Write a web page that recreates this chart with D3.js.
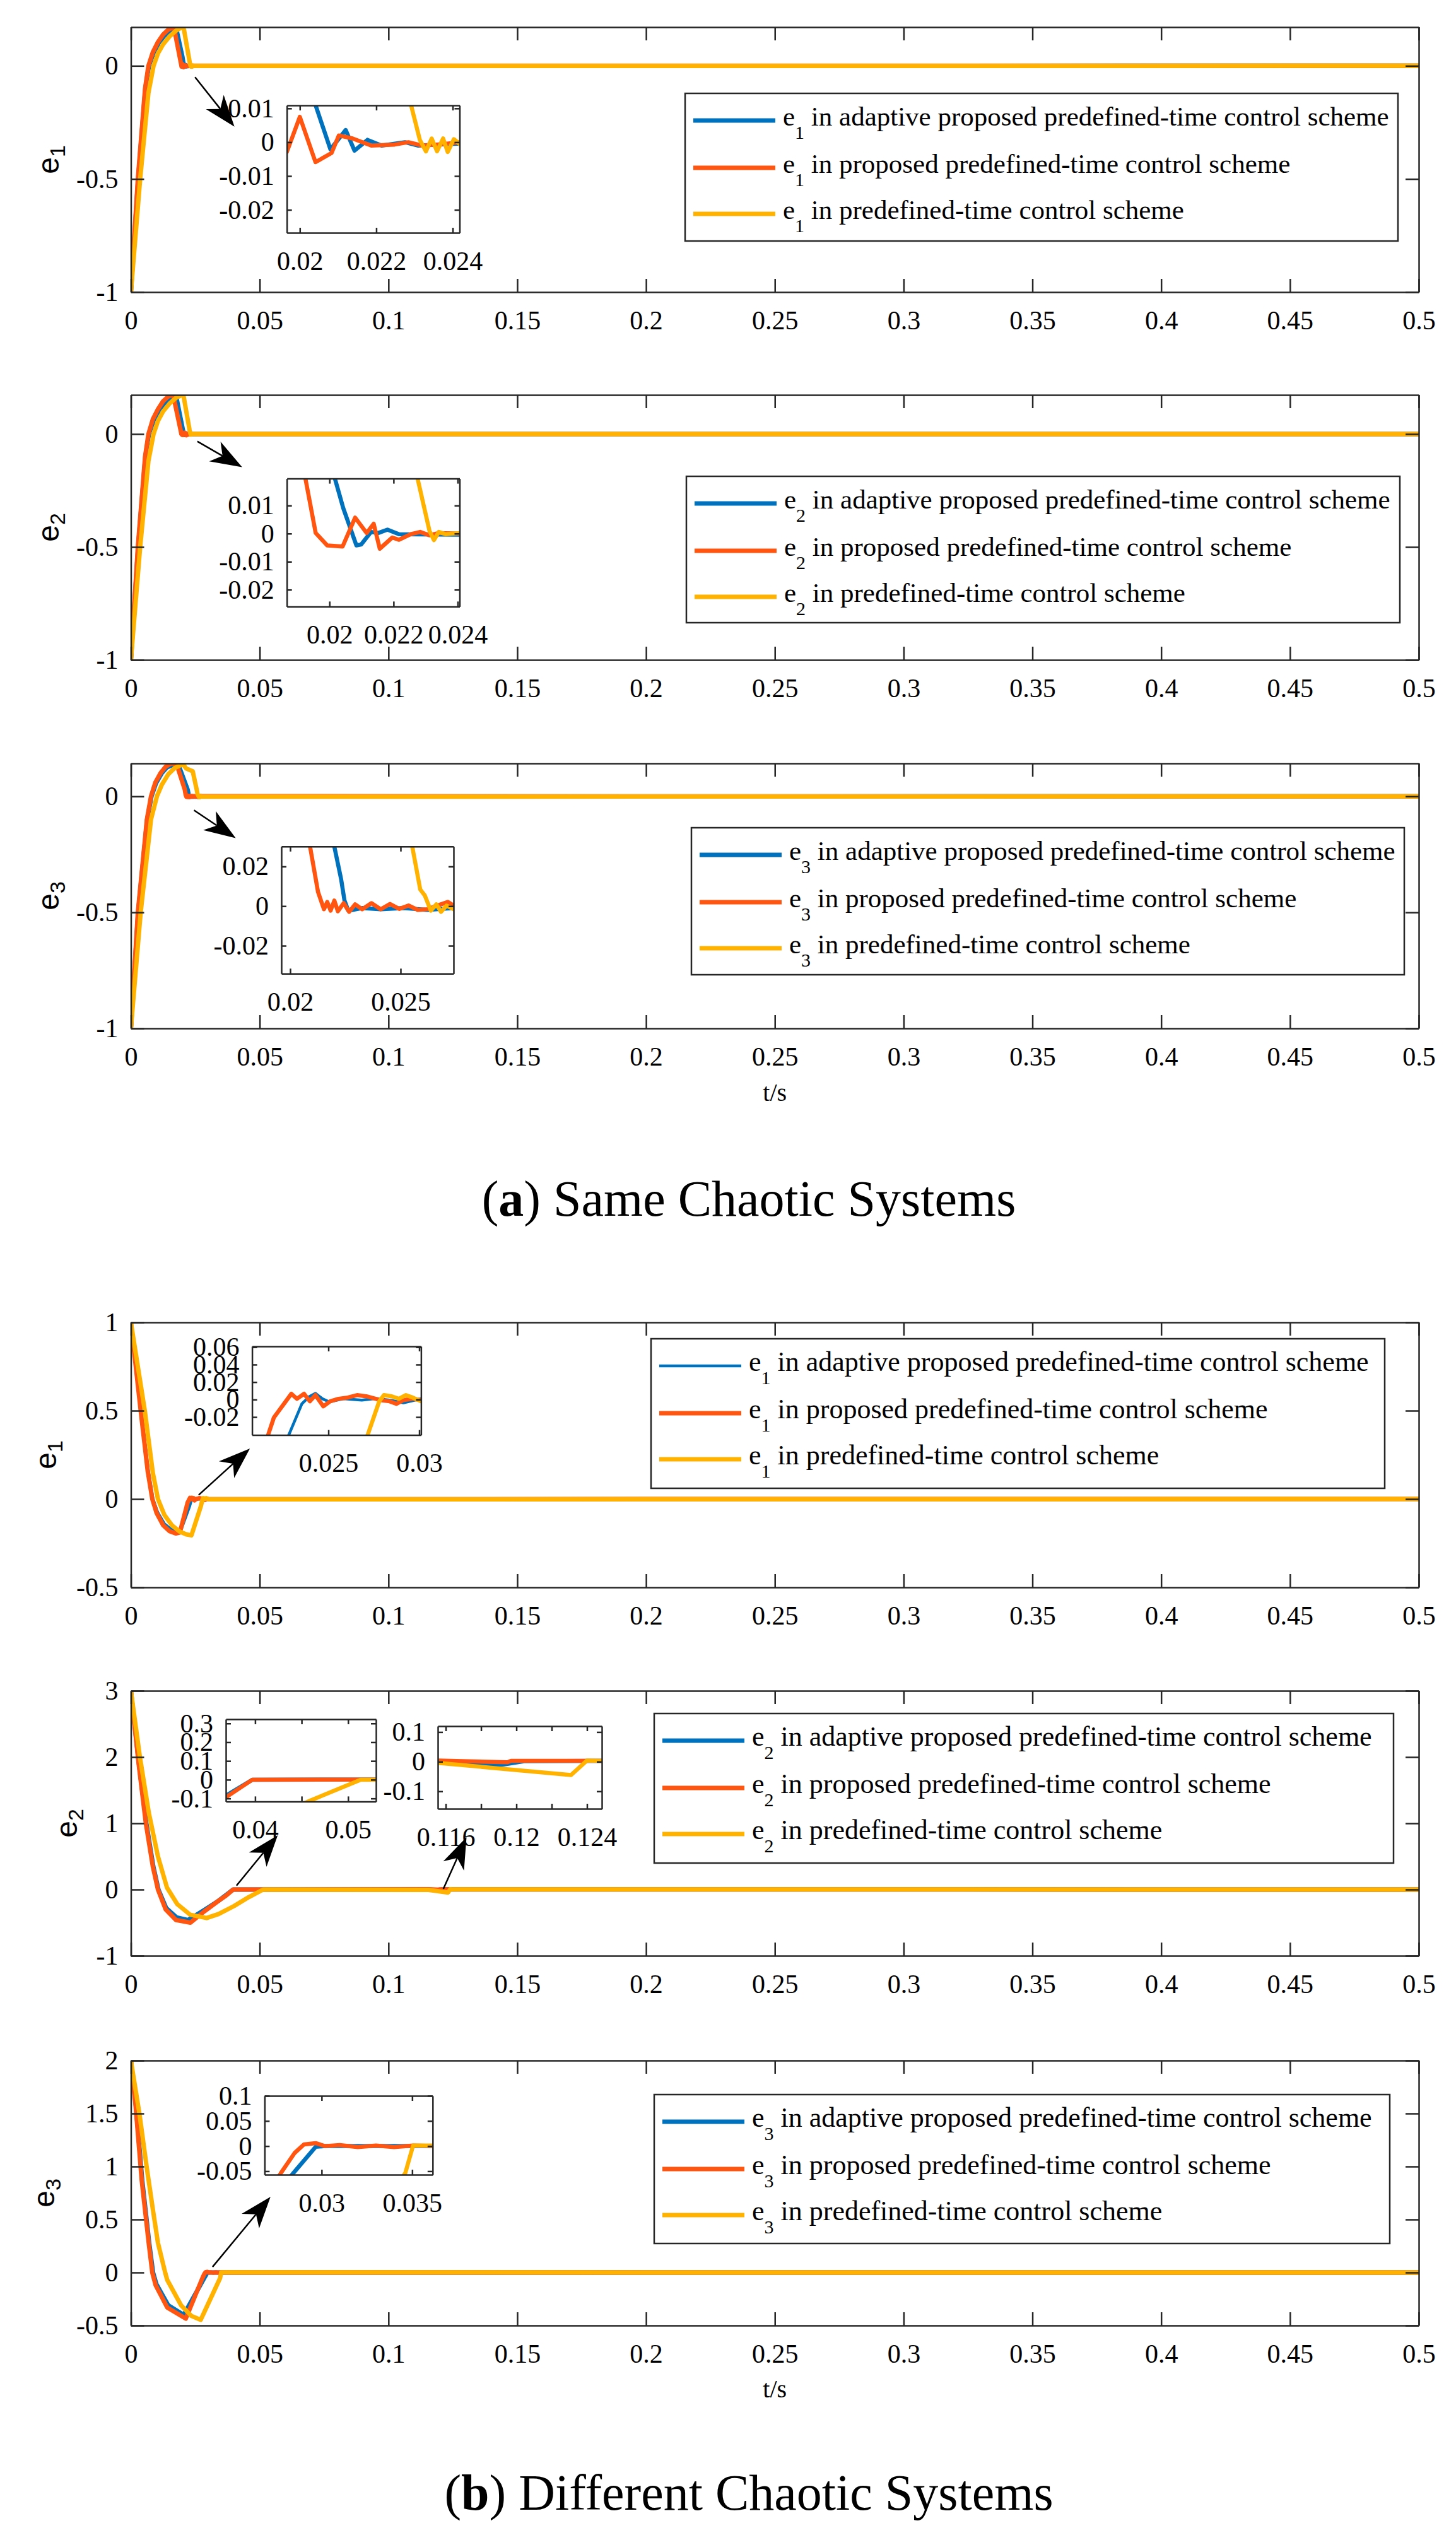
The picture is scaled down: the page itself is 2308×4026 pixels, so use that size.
<!DOCTYPE html>
<html>
<head>
<meta charset="utf-8">
<script src="https://cdn.jsdelivr.net/npm/d3@7/dist/d3.min.js"></script>
<style>
  body { margin: 0; background: #fff; }
</style>
</head>
<body>
<div id="chart"></div>
<script>
// ---- data ----
const xTicks = [0, 0.05, 0.1, 0.15, 0.2, 0.25, 0.3, 0.35, 0.4, 0.45, 0.5];
const xTickLabels = ["0", "0.05", "0.1", "0.15", "0.2", "0.25", "0.3", "0.35", "0.4", "0.45", "0.5"];

const yTicksA = [-1, -0.5, 0];
const yLabelsA = ["-1", "-0.5", "0"];
const yTicksB1 = [-0.5, 0, 0.5, 1];
const yLabelsB1 = ["-0.5", "0", "0.5", "1"];
const yTicksB2 = [-1, 0, 1, 2, 3];
const yLabelsB2 = ["-1", "0", "1", "2", "3"];
const yTicksB3 = [-0.5, 0, 0.5, 1, 1.5, 2];
const yLabelsB3 = ["-0.5", "0", "0.5", "1", "1.5", "2"];

const legendTexts = [
  "in adaptive proposed predefined-time control scheme",
  "in proposed predefined-time control scheme",
  "in predefined-time control scheme"
];

// (a) same chaotic systems: [t, e]
const a1Blue = [[0,-1],[0.0028,-0.5],[0.0056,-0.1],[0.007,0],[0.0088,0.058],[0.011,0.105],[0.013,0.133],[0.015,0.15],[0.0172,0.158],[0.0178,0.155],[0.02,0.04],[0.02041,0.011],[0.0208,-0.0021],[0.0212,0.0036],[0.02143,-0.0025],[0.02177,0.0007],[0.02214,-0.001],[0.02275,0],[0.0231,-0.001],[0.0242,-0.0004],[0.5,0]];
const a1Orange = [[0,-1],[0.0027,-0.5],[0.0055,-0.1],[0.0068,0],[0.0085,0.06],[0.0105,0.105],[0.0125,0.138],[0.0145,0.16],[0.0162,0.168],[0.0168,0.165],[0.01966,-0.0029],[0.02,0.0075],[0.02041,-0.0059],[0.02083,-0.0032],[0.02102,0.002],[0.02138,0.0011],[0.02187,-0.001],[0.02248,-0.0007],[0.02284,0],[0.0232,-0.001],[0.0237,-0.0006],[0.0242,0],[0.5,0]];
const a1Yellow = [[0,-1],[0.0036,-0.5],[0.0068,-0.12],[0.0088,0],[0.0105,0.055],[0.0125,0.095],[0.015,0.13],[0.0175,0.155],[0.0198,0.171],[0.0206,0.16],[0.02291,0.011],[0.02314,0.0007],[0.0233,-0.0027],[0.02345,0.0011],[0.02359,-0.0027],[0.02375,0.0011],[0.02387,-0.0029],[0.02403,0.0009],[0.0242,-0.0007],[0.5,0]];

const a2Blue = [[0,-1],[0.0028,-0.5],[0.0056,-0.1],[0.007,0],[0.0088,0.06],[0.011,0.108],[0.013,0.136],[0.015,0.152],[0.0172,0.158],[0.0178,0.154],[0.02017,0.0196],[0.02043,0.0091],[0.02084,-0.0042],[0.02099,-0.0039],[0.0213,0.0006],[0.02152,0.0002],[0.02181,0.0014],[0.02217,-0.0002],[0.02406,-0.0004],[0.5,0]];
const a2Orange = [[0,-1],[0.0027,-0.5],[0.0055,-0.1],[0.0068,0],[0.0085,0.065],[0.0105,0.11],[0.0125,0.145],[0.0145,0.166],[0.0158,0.173],[0.0165,0.168],[0.01925,0.0196],[0.01957,0.0002],[0.01993,-0.0042],[0.02041,-0.0046],[0.0208,0.0057],[0.02116,0.0002],[0.02138,0.0035],[0.02157,-0.0054],[0.02196,-0.0014],[0.02217,-0.0022],[0.02254,-0.0002],[0.02283,0.0006],[0.02312,-0.0006],[0.02341,0.0002],[0.02406,0],[0.5,0]];
const a2Yellow = [[0,-1],[0.0036,-0.5],[0.0068,-0.12],[0.0088,0],[0.0105,0.058],[0.0125,0.1],[0.015,0.135],[0.0175,0.16],[0.0198,0.173],[0.0205,0.165],[0.02275,0.0196],[0.02312,0.001],[0.02326,-0.0023],[0.02341,0.0006],[0.02362,-0.0002],[0.02406,0.0002],[0.5,0]];

const a3Blue = [[0,-1],[0.0028,-0.5],[0.0063,-0.1],[0.008,0],[0.0098,0.058],[0.012,0.1],[0.014,0.125],[0.016,0.134],[0.0177,0.135],[0.019,0.12],[0.022,0.03],[0.02231,0.0134],[0.02246,0.0028],[0.02263,-0.0023],[0.02326,-0.001],[0.0241,-0.0016],[0.02515,-0.001],[0.0262,-0.0019],[0.0274,-0.001],[0.5,0]];
const a3Orange = [[0,-1],[0.0027,-0.5],[0.0062,-0.1],[0.0078,0],[0.0095,0.06],[0.0115,0.1],[0.0135,0.128],[0.0155,0.141],[0.0165,0.142],[0.018,0.13],[0.0209,0.03],[0.02126,0.0072],[0.02153,-0.0016],[0.02168,0.0021],[0.02183,-0.0023],[0.022,0.0028],[0.02216,-0.0026],[0.02242,0.0015],[0.02267,-0.0029],[0.02294,0.0009],[0.02326,-0.0016],[0.02368,0.0015],[0.0241,-0.0016],[0.02452,0.0011],[0.02494,-0.0014],[0.02536,0.0003],[0.02578,-0.0019],[0.0262,-0.0016],[0.02683,0.0009],[0.02714,0.0021],[0.0274,0.0003],[0.5,0]];
const a3Yellow = [[0,-1],[0.0038,-0.5],[0.0078,-0.1],[0.0101,0],[0.012,0.05],[0.0145,0.095],[0.017,0.122],[0.0195,0.135],[0.0205,0.134],[0.0215,0.12],[0.024,0.108],[0.02553,0.03],[0.02589,0.0084],[0.0261,0.0053],[0.02637,-0.0023],[0.02662,0.0009],[0.02683,-0.0029],[0.02708,0.0003],[0.0274,-0.0016],[0.5,0]];

// (b) different chaotic systems
const b1Blue = [[0,1],[0.004,0.5],[0.0068,0.16],[0.0086,0],[0.0104,-0.075],[0.013,-0.14],[0.0155,-0.17],[0.018,-0.18],[0.0196,-0.17],[0.02283,-0.04],[0.02354,-0.0049],[0.02393,0.0031],[0.02429,0.0071],[0.02467,0.0009],[0.02505,-0.0026],[0.02582,0.0009],[0.02684,-0.0006],[0.0276,0.0011],[0.02837,-0.0006],[0.02913,-0.0037],[0.0301,0.0009],[0.5,0]];
const b1Orange = [[0,1],[0.0038,0.5],[0.0065,0.16],[0.0083,0],[0.01,-0.08],[0.0125,-0.148],[0.015,-0.182],[0.0175,-0.195],[0.019,-0.19],[0.02169,-0.04],[0.022,-0.0206],[0.02296,0.0066],[0.02327,0.0009],[0.02366,0.0066],[0.02398,-0.002],[0.02429,0.0051],[0.02472,-0.0077],[0.0251,-0.002],[0.02556,0.0009],[0.02607,0.0023],[0.02658,0.0051],[0.02709,0.0037],[0.02786,-0.0006],[0.02837,-0.002],[0.02875,-0.0049],[0.02913,-0.0006],[0.02964,0.0009],[0.0301,-0.0006],[0.5,0]];
const b1Yellow = [[0,1],[0.0054,0.5],[0.0085,0.15],[0.0105,0],[0.013,-0.09],[0.016,-0.15],[0.019,-0.185],[0.0215,-0.2],[0.0235,-0.206],[0.02717,-0.04],[0.0278,-0.002],[0.02806,0.0051],[0.02849,0.0037],[0.02888,0.0009],[0.02926,0.0051],[0.02964,0.0023],[0.0301,-0.002],[0.5,0]];

const b2Blue = [[0,3],[0.0031,1.9],[0.006,1.0],[0.0087,0.35],[0.0107,0],[0.0137,-0.28],[0.0177,-0.42],[0.0222,-0.46],[0.028,-0.32],[0.034,-0.17],[0.0397,0],[0.1155,0.002],[0.119,-0.012],[0.1205,0.002],[0.1248,0.003],[0.5,0]];
const b2Orange = [[0,3],[0.003,1.9],[0.0058,1.0],[0.0085,0.35],[0.0105,0],[0.0135,-0.3],[0.0175,-0.46],[0.0231,-0.5],[0.0285,-0.33],[0.034,-0.17],[0.03685,-0.094],[0.0397,0],[0.1155,0.004],[0.1195,-0.002],[0.1197,0.003],[0.1248,0.003],[0.5,0]];
const b2Yellow = [[0,3],[0.0035,2.0],[0.007,1.15],[0.0105,0.5],[0.014,0.03],[0.018,-0.22],[0.023,-0.38],[0.0294,-0.43],[0.034,-0.37],[0.04,-0.25],[0.04585,-0.113],[0.05135,0],[0.11555,-0.004],[0.1231,-0.045],[0.124,0.004],[0.1248,0.003],[0.5,0]];

const b3Blue = [[0,2],[0.0019,1.58],[0.0044,0.87],[0.0071,0.28],[0.0086,0],[0.0099,-0.11],[0.0145,-0.31],[0.0205,-0.4],[0.02844,-0.0537],[0.02967,-0.0015],[0.0302,0],[0.5,0]];
const b3Orange = [[0,2],[0.0018,1.58],[0.0042,0.87],[0.0069,0.28],[0.0083,0],[0.0096,-0.12],[0.0141,-0.33],[0.0213,-0.435],[0.02775,-0.0537],[0.02851,-0.0137],[0.02903,0.0034],[0.02967,0.0059],[0.03018,0],[0.031,0.002],[0.032,-0.002],[0.033,0.001],[0.034,-0.002],[0.03505,0.001],[0.0361,0],[0.5,0]];
const b3Yellow = [[0,2],[0.0033,1.5],[0.0061,1.0],[0.0085,0.6],[0.0105,0.28],[0.0133,0],[0.0141,-0.07],[0.0195,-0.31],[0.0235,-0.41],[0.0271,-0.447],[0.03462,-0.0537],[0.03505,0.001],[0.5,0]];

// inset ticks
const insA1X = [0.02, 0.022, 0.024], insA1XL = ["0.02", "0.022", "0.024"];
const insA1Y = [-0.02, -0.01, 0, 0.01], insA1YL = ["-0.02", "-0.01", "0", "0.01"];
const insA3X = [0.02, 0.025], insA3XL = ["0.02", "0.025"];
const insA3Y = [-0.02, 0, 0.02], insA3YL = ["-0.02", "0", "0.02"];
const insB1X = [0.025, 0.03], insB1XL = ["0.025", "0.03"];
const insB1Y = [-0.02, 0, 0.02, 0.04, 0.06], insB1YL = ["-0.02", "0", "0.02", "0.04", "0.06"];
const insB2aX = [0.04, 0.045, 0.05], insB2aXL = ["0.04", "", "0.05"];
const insB2aY = [-0.1, 0, 0.1, 0.2, 0.3], insB2aYL = ["-0.1", "0", "0.1", "0.2", "0.3"];
const insB2bX = [0.116, 0.118, 0.12, 0.122, 0.124], insB2bXL = ["0.116", "", "0.12", "", "0.124"];
const insB2bY = [-0.1, 0, 0.1], insB2bYL = ["-0.1", "0", "0.1"];
const insB3X = [0.03, 0.035], insB3XL = ["0.03", "0.035"];
const insB3Y = [-0.05, 0, 0.05, 0.1], insB3YL = ["-0.05", "0", "0.05", "0.1"];

// ---- layout ----
const W = 2308, H = 4026;
const colors = ["#0072BD", "#FF5510", "#FFB300"];
const axisColor = "#262626";
const serif = "'Liberation Serif', 'Times New Roman', serif";
const plotH = 420;

const x = d3.scaleLinear().domain([0, 0.5]).range([207.5, 2249]);

const panels = [
  { top: 43, yDomain: [-1, 0.171], yt: yTicksA, yl: yLabelsA, sub: "1", series: [a1Blue, a1Orange, a1Yellow], ylabX: 81,
    legend: { x: 1086, y: 148, w: 1130, h: 234, size: 43 }, widths: [7, 7, 7],
    insets: [{ box: [454.7, 167, 273.8, 202], xd: [0.01966, 0.02418], yd: [-0.0268, 0.0109], xt: insA1X, xl: insA1XL, yt: insA1Y, yl: insA1YL }],
    arrows: [[[0.0249, -0.05], [0.0402, -0.269]]] },
  { top: 626, yDomain: [-1, 0.173], yt: yTicksA, yl: yLabelsA, sub: "2", series: [a2Blue, a2Orange, a2Yellow], ylabX: 81,
    legend: { x: 1088, y: 755, w: 1131, h: 232, size: 43 }, widths: [7, 7, 7],
    insets: [{ box: [454.7, 758.6, 273.8, 202.8], xd: [0.01867, 0.02406], yd: [-0.026, 0.0196], xt: insA1X, xl: insA1XL, yt: insA1Y, yl: insA1YL }],
    arrows: [[[0.0258, -0.0324], [0.0432, -0.147]]] },
  { top: 1210, yDomain: [-1, 0.142], yt: yTicksA, yl: yLabelsA, sub: "3", series: [a3Blue, a3Orange, a3Yellow], ylabX: 81,
    legend: { x: 1096, y: 1312, w: 1130, h: 233, size: 43 }, widths: [7, 7, 7],
    insets: [{ box: [446, 1341.7, 273, 201.6], xd: [0.0196, 0.0274], yd: [-0.0341, 0.0301], xt: insA3X, xl: insA3XL, yt: insA3Y, yl: insA3YL }],
    arrows: [[[0.0245, -0.06], [0.0407, -0.18]]] },
  { top: 2096, yDomain: [-0.5, 1], yt: yTicksB1, yl: yLabelsB1, sub: "1", series: [b1Blue, b1Orange, b1Yellow], ylabX: 77,
    legend: { x: 1032, y: 2122, w: 1163, h: 237, size: 44 }, widths: [4.5, 7, 7],
    insets: [{ box: [399.6, 2134, 267.8, 140.6], xd: [0.0208, 0.0301], yd: [-0.0406, 0.0609], xt: insB1X, xl: insB1XL, yt: insB1Y, yl: insB1YL }],
    arrows: [[[0.0263, 0.023], [0.0462, 0.286]]] },
  { top: 2680, yDomain: [-1, 3], yt: yTicksB2, yl: yLabelsB2, sub: "2", series: [b2Blue, b2Orange, b2Yellow], ylabX: 110,
    legend: { x: 1037, y: 2716, w: 1172, h: 237, size: 44 }, widths: [7, 7, 7],
    insets: [
      { box: [358, 2725, 238, 130.4], xd: [0.03685, 0.053], yd: [-0.116, 0.3226], xt: insB2aX, xl: insB2aXL, yt: insB2aY, yl: insB2aYL },
      { box: [694, 2736, 260, 131], xd: [0.11555, 0.12484], yd: [-0.159, 0.12], xt: insB2bX, xl: insB2bXL, yt: insB2bY, yl: insB2bYL }],
    arrows: [[[0.041, 0.06], [0.057, 0.82]], [[0.1213, 0.01], [0.1303, 0.79]]] },
  { top: 3266, yDomain: [-0.5, 2], yt: yTicksB3, yl: yLabelsB3, sub: "3", series: [b3Blue, b3Orange, b3Yellow], ylabX: 74,
    legend: { x: 1037, y: 3320, w: 1166, h: 236, size: 44 }, widths: [7, 7, 7],
    insets: [{ box: [419.4, 3322, 266.4, 125], xd: [0.02685, 0.03613], yd: [-0.057, 0.1], xt: insB3X, xl: insB3XL, yt: insB3Y, yl: insB3YL }],
    arrows: [[[0.0317, 0.053], [0.0542, 0.714]]] }
];

const svg = d3.select("#chart").append("svg")
  .attr("width", W).attr("height", H)
  .attr("viewBox", `0 0 ${W} ${H}`)
  .style("background", "#fff");

let clipId = 0;

function drawAxes(g, xs, ys, o, tick) {
  const fmt = labels => (d, i) => labels[i] === undefined ? "" : labels[i];
  const [x0, x1] = xs.range();
  const [y0, y1] = ys.range();
  g.append("g").attr("transform", `translate(0,${y0})`)
    .call(d3.axisBottom(xs).tickValues(o.xt).tickFormat(fmt(o.xl)).tickSize(-tick).tickSizeOuter(0).tickPadding(29));
  g.append("g").attr("transform", `translate(0,${y1})`)
    .call(d3.axisTop(xs).tickValues(o.xt).tickFormat("").tickSize(-tick).tickSizeOuter(0));
  g.append("g").attr("transform", `translate(${x0},0)`)
    .call(d3.axisLeft(ys).tickValues(o.yt).tickFormat(fmt(o.yl)).tickSize(-tick).tickSizeOuter(0).tickPadding(20));
  g.append("g").attr("transform", `translate(${x1},0)`)
    .call(d3.axisRight(ys).tickValues(o.yt).tickFormat("").tickSize(-tick).tickSizeOuter(0));
  g.selectAll("g").attr("font-size", 42).attr("font-family", serif).attr("color", axisColor);
  g.selectAll(".domain, .tick line").attr("stroke-width", 2.5);
  g.selectAll(".tick text").attr("fill", "#000");
}

function drawLines(g, xs, ys, series, widths) {
  const id = "clip" + (clipId++);
  g.append("clipPath").attr("id", id).append("rect")
    .attr("x", xs.range()[0]).attr("y", ys.range()[1])
    .attr("width", xs.range()[1] - xs.range()[0])
    .attr("height", ys.range()[0] - ys.range()[1]);
  const line = d3.line().x(d => xs(d[0])).y(d => ys(d[1]));
  const lg = g.append("g").attr("clip-path", `url(#${id})`);
  series.forEach((s, i) => {
    lg.append("path").datum(s)
      .attr("d", line)
      .attr("fill", "none")
      .attr("stroke", colors[i])
      .attr("stroke-width", widths[i])
      .attr("stroke-linejoin", "round")
      .attr("stroke-linecap", "round");
  });
}

function drawArrow(g, xs, ys, a) {
  const x1 = xs(a[0][0]), y1 = ys(a[0][1]), x2 = xs(a[1][0]), y2 = ys(a[1][1]);
  const ang = Math.atan2(y2 - y1, x2 - x1);
  const ux = Math.cos(ang), uy = Math.sin(ang), px = -uy, py = ux;
  const L = 50, hw = 18, notch = 14;
  const bx = x2 - ux * L, by = y2 - uy * L;
  const nx = x2 - ux * (L - notch), ny = y2 - uy * (L - notch);
  g.append("line").attr("x1", x1).attr("y1", y1).attr("x2", nx).attr("y2", ny)
    .attr("stroke", "#000").attr("stroke-width", 2.5);
  g.append("path")
    .attr("d", `M${x2},${y2}L${bx + px * hw},${by + py * hw}L${nx},${ny}L${bx - px * hw},${by - py * hw}Z`)
    .attr("fill", "#000");
}

function drawLegend(g, L, sub, widths) {
  g.append("rect").attr("x", L.x).attr("y", L.y).attr("width", L.w).attr("height", L.h)
    .attr("fill", "#fff").attr("stroke", axisColor).attr("stroke-width", 2.5);
  const rows = [43, 118, 191];
  legendTexts.forEach((t, i) => {
    const ry = L.y + rows[i];
    g.append("line").attr("x1", L.x + 13).attr("x2", L.x + 143).attr("y1", ry).attr("y2", ry)
      .attr("stroke", colors[i]).attr("stroke-width", widths[i]);
    const tx = g.append("text").attr("x", L.x + 155).attr("y", ry + 8)
      .attr("font-family", serif).attr("font-size", L.size).attr("fill", "#000");
    tx.append("tspan").text("e");
    tx.append("tspan").attr("font-size", 30).attr("dy", 21).text(sub);
    tx.append("tspan").attr("dy", -21).text("\u00a0" + t);
  });
}

panels.forEach(p => {
  const g = svg.append("g");
  const y = d3.scaleLinear().domain(p.yDomain).range([p.top + plotH, p.top]);
  drawLines(g, x, y, p.series, p.widths);
  drawAxes(g, x, y, { xt: xTicks, xl: xTickLabels, yt: p.yt, yl: p.yl }, 21);

  // y label
  const yl = g.append("text")
    .attr("transform", `translate(${p.ylabX + 12},${p.top + plotH / 2}) rotate(-90)`)
    .attr("text-anchor", "middle")
    .attr("font-family", "'Liberation Sans', Arial, sans-serif")
    .attr("font-size", 48).attr("fill", "#000");
  yl.append("tspan").text("e");
  yl.append("tspan").attr("font-size", 34).attr("dy", 10).text(p.sub);

  // insets
  p.insets.forEach(ins => {
    const [bx, by, bw, bh] = ins.box;
    const ix = d3.scaleLinear().domain(ins.xd).range([bx, bx + bw]);
    const iy = d3.scaleLinear().domain(ins.yd).range([by + bh, by]);
    const ig = g.append("g");
    ig.append("rect").attr("x", bx).attr("y", by).attr("width", bw).attr("height", bh).attr("fill", "#fff");
    drawLines(ig, ix, iy, p.series, p.widths.map(w => Math.min(w, 6.5)));
    drawAxes(ig, ix, iy, ins, 8);
  });

  p.arrows.forEach(a => drawArrow(g, x, y, a));
  drawLegend(g, p.legend, p.sub, p.widths);
});

// axis titles and captions
[1745, 3800].forEach(yy => {
  svg.append("text").attr("x", (x.range()[0] + x.range()[1]) / 2).attr("y", yy)
    .attr("text-anchor", "middle").attr("font-family", serif).attr("font-size", 40)
    .text("t/s");
});

[[1927, "a", " Same Chaotic Systems"], [3978, "b", " Different Chaotic Systems"]].forEach(c => {
  const t = svg.append("text").attr("x", 1187).attr("y", c[0])
    .attr("text-anchor", "middle").attr("font-family", serif).attr("font-size", 80);
  t.append("tspan").text("(");
  t.append("tspan").attr("font-weight", "bold").text(c[1]);
  t.append("tspan").text(")" + c[2]);
});
</script>
</body>
</html>
